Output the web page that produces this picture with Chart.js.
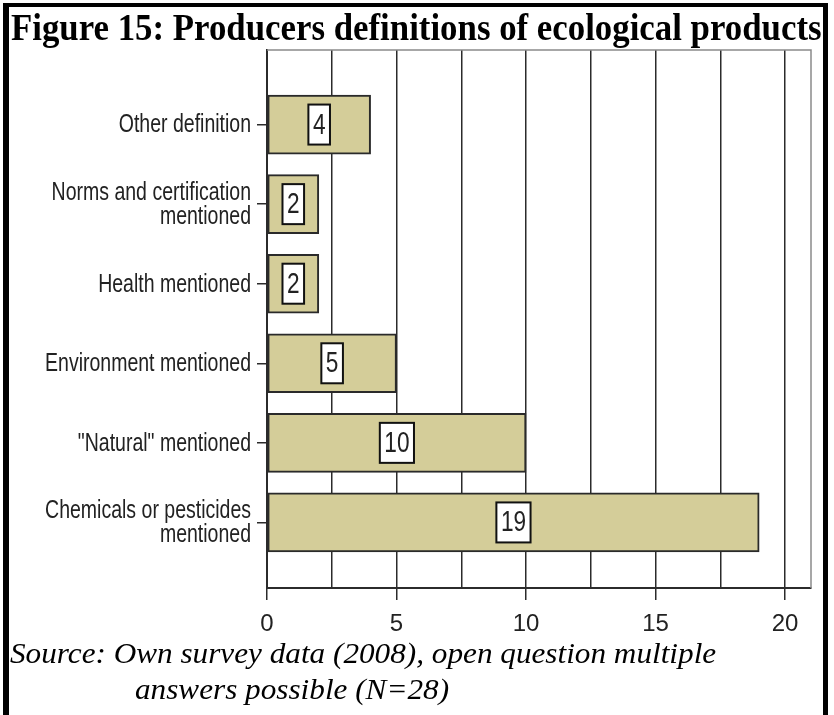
<!DOCTYPE html>
<html>
<head>
<meta charset="utf-8">
<script src="https://cdn.jsdelivr.net/npm/chart.js@4.4.1/dist/chart.umd.min.js"></script>
<style>
    html, body { margin: 0; padding: 0; background: #fff; }
    #page { position: relative; width: 834px; height: 715px; overflow: hidden; background: #fff; }
    #chart { position: absolute; left: 0; top: 0; }
    .bar { position: absolute; background: #000; }
    .txt { position: absolute; white-space: nowrap; transform-origin: 0 0; font-family: "Liberation Serif", "Times New Roman", serif; color: #000; }
    #title { left: 11px; top: 7px; font-size: 38px; font-weight: bold; line-height: 40px; }
    .src { font-size: 29px; font-style: italic; line-height: 32px; }
</style>
</head>
<body>
<div id="page">
    <canvas id="chart" width="834" height="715"></canvas>
    <div class="bar" style="left:3px;top:3px;width:825px;height:4px"></div>
    <div class="bar" style="left:3px;top:3px;width:6px;height:712px"></div>
    <div class="bar" style="left:823px;top:3px;width:5px;height:712px"></div>
    <div id="title" class="txt">Figure 15: Producers definitions of ecological products</div>
    <div id="src1" class="txt src" style="left:10px;top:637px">Source: Own survey data (2008), open question multiple</div>
    <div id="src2" class="txt src" style="left:135px;top:673px">answers possible (N=28)</div>
</div>
<script>
// ================= DATA =================
const categories = [
    ["Other definition"],
    ["Norms and certification", "mentioned"],
    ["Health mentioned"],
    ["Environment mentioned"],
    ["\"Natural\" mentioned"],
    ["Chemicals or pesticides", "mentioned"]
];
const counts = [4, 2, 2, 5, 10, 19];
const positions = [1, 2, 3, 4, 5, 6];
const xGrid = [0, 2.5, 5, 7.5, 10, 12.5, 15, 17.5, 20];
const xLabels = [0, 5, 10, 15, 20];

// ================= TEXT FIT =================
function fitWidth(id, target) {
    const el = document.getElementById(id);
    const k = target / el.offsetWidth;
    el.style.transform = "scaleX(" + k + ")";
    return k;
}
fitWidth("title", 811);
const ks = fitWidth("src1", 706);
document.getElementById("src2").style.transform = "scaleX(" + ks + ")";

// ================= CHART =================
const sansFamily = "'Liberation Sans', Arial, sans-serif";
const narrow = 0.78;     // squeeze factor, the original uses a narrow font
const dark = "#2b2b2b";
const textColor = "#222";

const framePlugin = {
    id: "frame",
    beforeDatasetsDraw(chart) {
        const a = chart.chartArea;
        const c = chart.ctx;
        c.save();
        c.strokeStyle = "#8a8a8a";
        c.lineWidth = 1.5;
        c.beginPath();
        c.moveTo(a.left, a.top);
        c.lineTo(a.right, a.top);
        c.lineTo(a.right, a.bottom);
        c.stroke();
        c.restore();
    }
};

const yLabelPlugin = {
    id: "yLabels",
    afterDraw(chart) {
        const ys = chart.scales.y;
        const c = chart.ctx;
        const right = ys.right - 10 - 6;
        const lh = 24;
        c.save();
        c.font = "25px " + sansFamily;
        c.fillStyle = textColor;
        c.textAlign = "right";
        c.textBaseline = "middle";
        c.scale(narrow, 1);
        positions.forEach((p, i) => {
            const lines = categories[i];
            const cy = ys.getPixelForValue(p);
            const y0 = cy - (lines.length - 1) * lh / 2;
            lines.forEach((ln, j) => c.fillText(ln, right / narrow, y0 + j * lh + 1));
        });
        c.restore();
    }
};

const valuePlugin = {
    id: "values",
    afterDatasetsDraw(chart) {
        const c = chart.ctx;
        const meta = chart.getDatasetMeta(0);
        c.save();
        c.font = "29px " + sansFamily;
        meta.data.forEach((bar, i) => {
            const txt = String(counts[i]);
            const cx = (bar.x + bar.base) / 2;
            const cy = bar.y;
            const tw = c.measureText(txt).width * narrow;
            const w = tw + 9;
            const h = 40;
            c.fillStyle = "#fff";
            c.fillRect(cx - w / 2, cy - h / 2, w, h);
            c.strokeStyle = "#111";
            c.lineWidth = 2;
            c.strokeRect(cx - w / 2, cy - h / 2, w, h);
            c.save();
            c.fillStyle = textColor;
            c.textAlign = "center";
            c.textBaseline = "middle";
            c.scale(narrow, 1);
            c.fillText(txt, cx / narrow, cy + 1);
            c.restore();
        });
        c.restore();
    }
};

new Chart(document.getElementById("chart"), {
    type: "bar",
    data: {
        datasets: [{
            data: counts.map((v, i) => ({ x: v, y: positions[i] })),
            backgroundColor: "#d4cd99",
            borderColor: "#2a2a2a",
            borderWidth: 2,
            borderSkipped: false,
            barThickness: 59
        }]
    },
    options: {
        indexAxis: "y",
        responsive: false,
        animation: false,
        devicePixelRatio: 1,
        layout: { padding: { left: 0, top: 50, right: 23, bottom: 0 } },
        plugins: { legend: { display: false }, tooltip: { enabled: false } },
        scales: {
            x: {
                type: "linear",
                min: 0,
                max: 21,
                afterFit: s => { s.height = 127; },
                afterBuildTicks: s => { s.ticks = xGrid.map(v => ({ value: v })); },
                ticks: {
                    autoSkip: false,
                    maxRotation: 0,
                    padding: 10,
                    color: textColor,
                    font: { family: sansFamily, size: 24 },
                    callback: v => xLabels.includes(v) ? String(v) : ""
                },
                grid: {
                    color: dark,
                    lineWidth: 1.5,
                    tickLength: 12,
                    tickColor: ctx => (ctx.tick && xLabels.includes(ctx.tick.value)) ? dark : "rgba(0,0,0,0)"
                },
                border: { display: true, color: dark, width: 2 }
            },
            y: {
                type: "linear",
                reverse: true,
                offset: false,
                min: 0.063,
                max: 6.824,
                afterFit: s => { s.width = 267; },
                afterBuildTicks: s => { s.ticks = positions.map(p => ({ value: p })); },
                ticks: {
                    autoSkip: false,
                    padding: 5,
                    callback: () => ""
                },
                grid: {
                    offset: false,
                    drawOnChartArea: false,
                    tickLength: 10,
                    tickColor: dark,
                    lineWidth: 1.5
                },
                border: { display: true, color: dark, width: 2 }
            }
        }
    },
    plugins: [framePlugin, valuePlugin, yLabelPlugin]
});
</script>
</body>
</html>
